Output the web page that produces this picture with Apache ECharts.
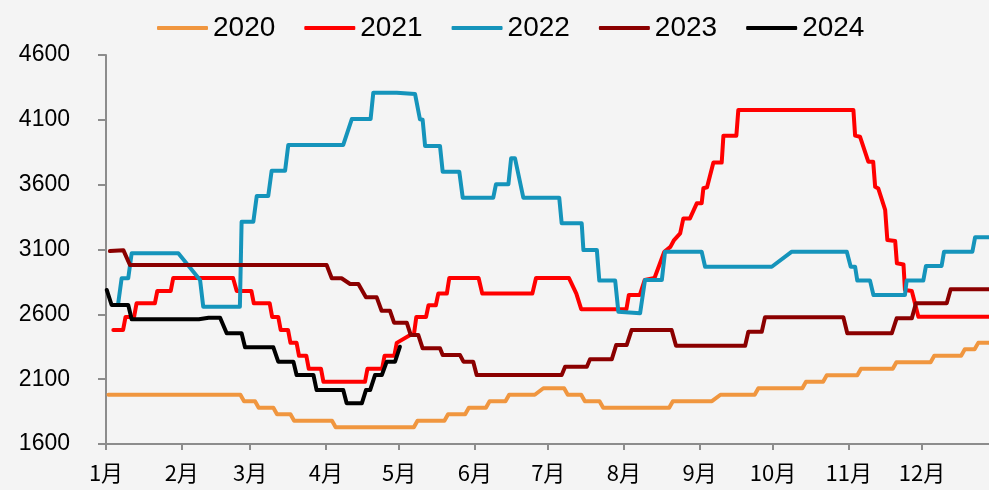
<!DOCTYPE html>
<html>
<head>
<meta charset="utf-8">
<title>价格走势</title>
<script src="https://cdn.jsdelivr.net/npm/echarts@6/dist/echarts.min.js"></script>
<style>
  html, body { margin: 0; padding: 0; background: #f4f4f4; }
  #chart { width: 989px; height: 490px; }
</style>
</head>
<body>
<div id="chart"></div>
<script>
// Month labels and the day-of-year on which each month starts
const monthLabels = ['1月', '2月', '3月', '4月', '5月', '6月', '7月', '8月', '9月', '10月', '11月', '12月'];
const monthStarts = [0, 31, 59, 90, 120, 151, 181, 212, 243, 273, 304, 334];
const yTicks = [1600, 2100, 2600, 3100, 3600, 4100, 4600];
const seriesNames = ['2020', '2021', '2022', '2023', '2024'];

// Each year: day of year and price at that day (step changes)
const days2020 = [1, 55, 56.5, 61, 62.5, 68.5, 70, 75.5, 77, 92.5, 94, 126, 127.5, 138.5, 140, 147, 148.5, 155.5, 157, 163.5, 165, 175.5, 179, 187.5, 189, 194.5, 196, 202, 203.5, 230.5, 232, 248, 251.5, 265.5, 267, 285, 286.5, 293.5, 295, 307.5, 309, 322, 323.5, 337.5, 339, 350, 351.5, 355.5, 357, 362];
const vals2020 = [1980, 1980, 1930, 1930, 1880, 1880, 1830, 1830, 1780, 1780, 1730, 1730, 1780, 1780, 1830, 1830, 1880, 1880, 1930, 1930, 1980, 1980, 2030, 2030, 1980, 1980, 1930, 1930, 1880, 1880, 1930, 1930, 1980, 1980, 2030, 2030, 2080, 2080, 2130, 2130, 2180, 2180, 2230, 2230, 2280, 2280, 2330, 2330, 2380, 2380];

const days2021 = [3, 7, 8, 11.5, 12.5, 20, 21, 26.5, 27.5, 52, 53.5, 59.5, 60.5, 67, 68, 70.5, 71.5, 74.5, 75.5, 78, 79, 82, 83, 88, 89, 106, 107, 113, 114, 118, 119, 124.5, 126, 127, 131, 132, 135, 136, 139.5, 140.5, 152.5, 154, 174.5, 176, 189.5, 192.5, 194.5, 213, 214, 218.5, 220.5, 224.5, 228.5, 231, 232.5, 235, 236.3, 239, 241.8, 243.8, 244.5, 246, 248.6, 252, 252.7, 258, 258.8, 305.9, 306.6, 308.6, 312, 314, 314.8, 316.1, 318.9, 319.8, 323, 323.7, 326.4, 327, 329.8, 332.5, 362];
const vals2021 = [2480, 2480, 2580, 2580, 2685, 2685, 2780, 2780, 2880, 2880, 2780, 2780, 2685, 2685, 2580, 2580, 2480, 2480, 2380, 2380, 2280, 2280, 2180, 2180, 2080, 2080, 2180, 2180, 2280, 2280, 2380, 2440, 2440, 2580, 2580, 2670, 2670, 2760, 2760, 2880, 2880, 2760, 2760, 2880, 2880, 2760, 2640, 2640, 2750, 2750, 2865, 2880, 3083, 3120, 3173, 3225, 3340, 3340, 3456, 3456, 3572, 3580, 3770, 3770, 3978, 3978, 4176, 4176, 3978, 3970, 3777, 3777, 3584, 3570, 3405, 3173, 3165, 2994, 2985, 2788, 2780, 2582, 2582];

const days2022 = [5, 6.4, 9.1, 10.5, 29.6, 38.5, 39.8, 54.8, 55.5, 60.3, 61.7, 66.4, 67.8, 73.3, 74.6, 97.1, 100.6, 108.3, 109.4, 119, 126.5, 128.5, 129.6, 130.6, 136.7, 137.8, 144.6, 146, 158.5, 159.6, 164.7, 165.8, 167.4, 170.8, 185.5, 186.5, 194.7, 195.4, 200.9, 201.9, 208.4, 209.7, 218.6, 220.6, 227.5, 228.8, 243.8, 245.2, 272.5, 280.7, 303.2, 304.8, 306.6, 307.5, 312.7, 314.1, 327, 327.7, 334.5, 335.6, 342, 343, 354.6, 355.7, 362];
const vals2022 = [2685, 2878, 2878, 3071, 3071, 2865, 2659, 2659, 3314, 3314, 3513, 3513, 3708, 3708, 3906, 3906, 4106, 4106, 4309, 4309, 4299, 4104, 4100, 3898, 3898, 3700, 3700, 3500, 3500, 3603, 3603, 3803, 3803, 3500, 3500, 3302, 3302, 3096, 3096, 2860, 2860, 2620, 2608, 2865, 2865, 3083, 3083, 2967, 2967, 3083, 3083, 2967, 2967, 2860, 2860, 2749, 2749, 2860, 2860, 2973, 2973, 3083, 3083, 3194, 3194];

const days2023 = [1.6, 7.1, 9.8, 90.3, 92.4, 96.4, 99.9, 103.3, 106.4, 110.8, 112.8, 116.2, 117.9, 123.1, 124.7, 127.8, 129.6, 136.7, 137.8, 144.9, 146.3, 150.3, 151.7, 186.5, 187.9, 196.8, 198.1, 207, 208.8, 213.1, 215.1, 231.5, 233.3, 261.6, 262.9, 268.4, 269.7, 301.8, 303.4, 321.6, 323.6, 329.8, 331.5, 344.1, 345.7, 362];
const vals2023 = [3088, 3095, 2980, 2980, 2878, 2878, 2834, 2834, 2731, 2731, 2628, 2628, 2536, 2536, 2441, 2441, 2338, 2338, 2286, 2286, 2235, 2235, 2132, 2132, 2196, 2196, 2253, 2253, 2363, 2363, 2479, 2479, 2358, 2358, 2466, 2466, 2577, 2577, 2454, 2454, 2569, 2569, 2685, 2685, 2793, 2793];

const days2024 = [0.3, 2.3, 9.1, 10.5, 38, 42, 46.7, 49.4, 55.5, 56.9, 68.5, 70.5, 76.7, 78, 84.9, 86.2, 97.1, 98.5, 104.7, 106.4, 108.1, 110.1, 112.9, 114.9, 118.3, 120.3];
const vals2024 = [2788, 2672, 2672, 2562, 2562, 2574, 2574, 2454, 2454, 2346, 2346, 2235, 2235, 2132, 2132, 2016, 2016, 1914, 1914, 2016, 2016, 2132, 2132, 2235, 2235, 2350];

const colors = ['#f0963f', '#ff0000', '#1594bb', '#8b0000', '#000000'];
const allDays = [days2020, days2021, days2022, days2023, days2024];
const allVals = [vals2020, vals2021, vals2022, vals2023, vals2024];

const chart = echarts.init(document.getElementById('chart'));

const series = seriesNames.map((name, k) => ({
  name: name,
  type: 'line',
  data: allDays[k].map((d, i) => [d, allVals[k][i]]),
  showSymbol: false,
  symbol: 'none',
  smooth: false,
  color: colors[k],
  lineStyle: { width: 4, color: colors[k], cap: 'round', join: 'round' },
  emphasis: { disabled: true },
  clip: true,
  z: 2 + k
}));

chart.setOption({
  backgroundColor: '#f4f4f4',
  animation: false,
  legend: {
    left: 152,
    top: 9,
    icon: 'roundRect',
    itemWidth: 51,
    itemHeight: 4,
    itemGap: 29,
    textStyle: { fontFamily: 'Liberation Sans, Arial, sans-serif', fontSize: 28, color: '#000' },
    data: seriesNames
  },
  grid: { left: 106, right: 0, top: 55, bottom: 46, containLabel: false },
  xAxis: {
    type: 'value',
    min: 0,
    max: 361.4,
    splitLine: { show: false },
    axisLine: { show: true, lineStyle: { color: '#8c8c8c', width: 2 } },
    axisTick: {
      show: true,
      customValues: monthStarts,
      length: 6,
      lineStyle: { color: '#8c8c8c', width: 2 }
    },
    axisLabel: {
      customValues: monthStarts,
      formatter: function (v) {
        const i = monthStarts.indexOf(Math.round(v));
        return i >= 0 ? monthLabels[i] : '';
      },
      margin: 18,
      fontFamily: 'Noto Sans CJK SC, sans-serif',
      fontSize: 22,
      color: '#000'
    }
  },
  yAxis: {
    type: 'value',
    min: yTicks[0],
    max: yTicks[yTicks.length - 1],
    interval: 500,
    splitLine: { show: false },
    axisLine: { show: true, lineStyle: { color: '#8c8c8c', width: 2 } },
    axisTick: { show: true, length: 8, lineStyle: { color: '#8c8c8c', width: 2 } },
    axisLabel: {
      margin: 36,
      formatter: function (v) { return String(v); },
      fontFamily: 'Liberation Sans, Arial, sans-serif',
      fontSize: 23,
      color: '#000'
    }
  },
  series: series
});
</script>
</body>
</html>
